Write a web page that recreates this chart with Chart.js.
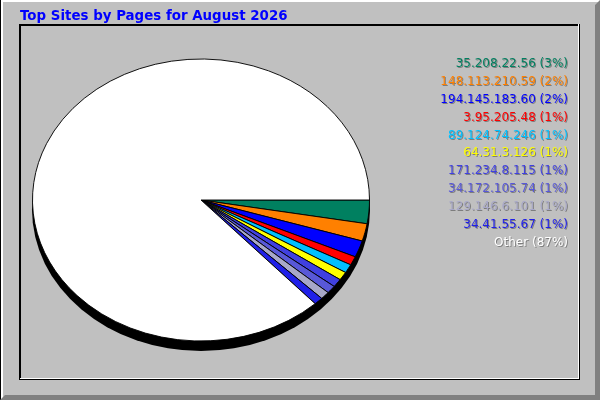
<!DOCTYPE html>
<html>
<head>
<meta charset="utf-8">
<script src="https://cdn.jsdelivr.net/npm/chart.js@4/dist/chart.umd.min.js"></script>
<style>
html,body{margin:0;padding:0;background:#c0c0c0;}
#wrap{width:600px;height:400px;position:relative;}
canvas{display:block;}
</style>
</head>
<body>
<div id="wrap"><canvas id="c" width="600" height="400"></canvas></div>
<script>
const chartTitle = "Top Sites by Pages for August 2026";
const sites = ["35.208.22.56","148.113.210.59","194.145.183.60","3.95.205.48","89.124.74.246","64.31.3.126","171.234.8.115","34.172.105.74","129.146.6.101","34.41.55.67","Other"];
const pages = [2700,2000,1900,1000,990,960,950,900,890,860,86850];
const sliceColors = ["#008060","#ff8000","#0000ff","#ff0000","#00c0ff","#ffff00","#4040e0","#5858d8","#a8a8c8","#2020e8","#ffffff"];
const labelColors = ["#008060","#ff8000","#0000ff","#ff0000","#00c0ff","#ffff00","#4040e0","#5858d8","#a8a8c8","#2020e8","#ffffff"];
const squash = 141/168.5;

const framePlugin = {
  id:'frame',
  beforeDraw(chart){
    const ctx = chart.ctx;
    ctx.save();
    ctx.fillStyle = '#c0c0c0';
    ctx.fillRect(0,0,600,400);
    // outer bevel
    ctx.fillStyle = '#ffffff';
    ctx.fillRect(0,0,600,2);
    ctx.fillRect(0,0,3,400);
    ctx.fillStyle = '#000000';
    ctx.fillRect(0,0,1,400);
    ctx.fillStyle = '#808080';
    ctx.beginPath();
    ctx.moveTo(600,0);ctx.lineTo(600,400);ctx.lineTo(0,400);ctx.lineTo(5,395);ctx.lineTo(595,395);ctx.lineTo(595,5);ctx.closePath();
    ctx.fill();
    // inner panel
    ctx.fillStyle = '#000000';
    ctx.fillRect(19,24,561,2);
    ctx.fillRect(19,24,2,356);
    ctx.fillStyle = '#ffffff';
    ctx.fillRect(578,24,1,355);
    ctx.fillRect(20,378,559,1);
    ctx.fillStyle = '#000000';
    ctx.fillRect(579,24,1,356);
    ctx.fillRect(20,379,560,1);
    // title
    ctx.fillStyle = '#0000ff';
    ctx.font = 'bold 13.4px "DejaVu Sans"';
    ctx.textAlign = 'left';
    ctx.textBaseline = 'alphabetic';
    ctx.fillText(chartTitle, 20, 20);
    ctx.restore();
  },
  beforeDatasetsDraw(chart){
    const ctx = chart.ctx;
    const arc = chart.getDatasetMeta(0).data[0];
    const cx = arc.x, cy = arc.y, r = arc.outerRadius;
    ctx.save();
    ctx.fillStyle = '#000000';
    ctx.beginPath();
    ctx.ellipse(cx, cy+9.5, r+0.5, r*squash+0.5, 0, 0, Math.PI*2);
    ctx.fill();
    ctx.restore();
    ctx.save();
    ctx.translate(cx,cy);
    ctx.scale(1,squash);
    ctx.translate(-cx,-cy);
  },
  afterDatasetsDraw(chart){
    chart.ctx.restore();
  },
  afterDraw(chart){
    const ctx = chart.ctx;
    const data = chart.data.datasets[0].data;
    const total = data.reduce((a,b)=>a+b,0);
    ctx.save();
    ctx.font = '12px "DejaVu Sans"';
    ctx.textAlign = 'right';
    ctx.textBaseline = 'middle';
    chart.data.labels.forEach((lab,i)=>{
      const pct = Math.round(data[i]*100/total);
      const txt = lab + ' (' + pct + '%)';
      const y = 64 + i*17.87;
      ctx.fillStyle = 'rgba(0,0,0,0.35)';
      ctx.fillText(txt, 569, y+1);
      ctx.fillStyle = labelColors[i];
      ctx.fillText(txt, 568, y);
    });
    ctx.restore();
  }
};

new Chart(document.getElementById('c'), {
  type:'pie',
  data:{
    labels:sites,
    datasets:[{data:pages, backgroundColor:sliceColors, borderColor:'#000000', borderWidth:1}]
  },
  options:{
    responsive:false,
    devicePixelRatio:1,
    animation:false,
    rotation:90,
    layout:{padding:{left:32,right:230,top:31,bottom:31}},
    plugins:{legend:{display:false}, title:{display:false}, tooltip:{enabled:false}}
  },
  plugins:[framePlugin]
});
</script>
</body>
</html>
